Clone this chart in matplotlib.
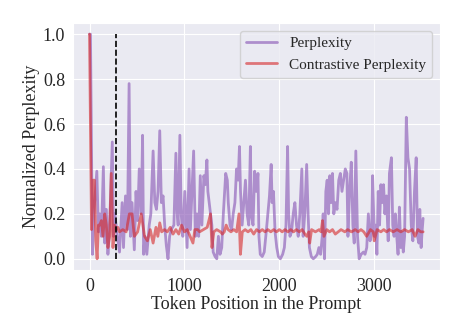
import numpy as np
import matplotlib
matplotlib.use("Agg")
import matplotlib.pyplot as plt
import seaborn as sns

# values
perp_tokens = [0, 10, 31, 45, 77, 94, 108, 125, 146, 160, 177, 194, 212, 240, 253, 267, 288, 316, 344, 358,
               379, 400, 417, 431, 448, 472, 490, 507, 524, 545, 559, 570, 584, 604, 629, 646, 670, 688, 705, 722,
               740, 757, 775, 792, 809, 827, 844, 861, 889, 910, 924, 934, 952, 966, 983, 1004, 1028, 1049, 1063, 1080,
               1097, 1115, 1132, 1150, 1167, 1184, 1205, 1219, 1237, 1247, 1261, 1275, 1289, 1303, 1323, 1341, 1358, 1375, 1393, 1410,
               1435, 1452, 1462, 1480, 1497, 1514, 1532, 1549, 1566, 1580, 1591, 1608, 1626, 1643, 1660, 1678, 1695, 1706, 1723, 1740,
               1757, 1775, 1785, 1799, 1820, 1841, 1862, 1879, 1896, 1914, 1924, 1938, 1955, 1973, 1990, 2011, 2035, 2053, 2070, 2087,
               2098, 2112, 2129, 2146, 2164, 2181, 2199, 2216, 2237, 2251, 2268, 2288, 2303, 2317, 2337, 2358, 2383, 2400, 2417, 2435,
               2452, 2462, 2476, 2490, 2504, 2518, 2532, 2546, 2560, 2574, 2591, 2608, 2626, 2643, 2660, 2678, 2695, 2712, 2723, 2740,
               2758, 2775, 2789, 2806, 2824, 2841, 2862, 2886, 2903, 2921, 2938, 2956, 2973, 2983, 3001, 3015, 3028, 3042, 3056, 3070,
               3084, 3098, 3112, 3129, 3147, 3160, 3181, 3195, 3209, 3223, 3237, 3251, 3265, 3279, 3292, 3306, 3320, 3338, 3355, 3372,
               3390, 3407, 3424, 3442, 3456, 3470, 3480, 3494, 3504, 3515]
perp_values = [1.0, 1.0, 0.02, 0.2, 0.39, 0.12, 0.2, 0.1, 0.41, 0.07, 0.22, 0.02, 0.15, 0.52, 0.1, 0.2, 0.12, 0.03, 0.25, 0.05,
               0.28, 0.13, 0.78, 0.1, 0.25, 0.04, 0.3, 0.17, 0.4, 0.2, 0.55, 0.02, 0.1, 0.02, 0.15, 0.2, 0.48, 0.25, 0.22, 0.3,
               0.57, 0.25, 0.28, 0.15, 0.06, 0.0, 0.1, 0.13, 0.15, 0.47, 0.2, 0.15, 0.55, 0.2, 0.1, 0.3, 0.05, 0.4, 0.13, 0.3,
               0.48, 0.1, 0.2, 0.1, 0.37, 0.15, 0.37, 0.33, 0.44, 0.3, 0.25, 0.2, 0.15, 0.03, 0.01, 0.0, 0.1, 0.02, 0.05, 0.2,
               0.38, 0.35, 0.25, 0.15, 0.13, 0.2, 0.25, 0.4, 0.35, 0.5, 0.3, 0.15, 0.25, 0.35, 0.2, 0.15, 0.5, 0.19, 0.15, 0.39,
               0.3, 0.38, 0.1, 0.02, 0.01, 0.03, 0.12, 0.2, 0.28, 0.42, 0.25, 0.3, 0.12, 0.05, 0.01, 0.0, 0.02, 0.05, 0.15, 0.5,
               0.2, 0.1, 0.12, 0.2, 0.25, 0.15, 0.1, 0.2, 0.4, 0.1, 0.2, 0.42, 0.2, 0.05, 0.01, 0.0, 0.01, 0.02, 0.05, 0.02,
               0.1, 0.2, 0.0, 0.3, 0.35, 0.2, 0.37, 0.25, 0.38, 0.2, 0.25, 0.22, 0.35, 0.38, 0.3, 0.35, 0.4, 0.38, 0.1, 0.3,
               0.43, 0.15, 0.07, 0.48, 0.1, 0.0, 0.02, 0.03, 0.02, 0.05, 0.2, 0.08, 0.12, 0.37, 0.1, 0.15, 0.02, 0.3, 0.15, 0.33,
               0.25, 0.33, 0.2, 0.28, 0.08, 0.38, 0.45, 0.15, 0.1, 0.2, 0.1, 0.02, 0.23, 0.05, 0.12, 0.03, 0.1, 0.63, 0.45, 0.4,
               0.15, 0.08, 0.3, 0.45, 0.1, 0.07, 0.22, 0.05, 0.12, 0.18]

cont_tokens = [0, 21, 38, 52, 66, 80, 94, 108, 125, 142, 160, 177, 194, 212, 229, 247, 264, 281, 299, 316,
               351, 386, 420, 448, 472, 507, 545, 580, 610, 640, 670, 700, 720, 740, 760, 790, 820, 850, 880, 910,
               940, 970, 1000, 1030, 1060, 1090, 1110, 1140, 1160, 1200, 1240, 1275, 1290, 1310, 1340, 1380, 1400, 1420, 1440, 1460,
               1490, 1520, 1550, 1575, 1590, 1610, 1640, 1670, 1700, 1730, 1760, 1790, 1820, 1850, 1880, 1910, 1940, 1970, 2000, 2030,
               2060, 2090, 2120, 2150, 2180, 2210, 2240, 2270, 2290, 2310, 2320, 2340, 2380, 2420, 2440, 2455, 2470, 2500, 2530, 2560,
               2590, 2620, 2650, 2690, 2720, 2760, 2800, 2830, 2860, 2890, 2920, 2960, 2990, 3000, 3030, 3070, 3100, 3130, 3160, 3200,
               3240, 3280, 3320, 3360, 3400, 3430, 3460, 3490, 3515]
cont_values = [1.0, 0.13, 0.35, 0.35, 0.08, 0.0, 0.15, 0.15, 0.17, 0.1, 0.2, 0.15, 0.05, 0.1, 0.38, 0.05, 0.15, 0.13, 0.14, 0.12,
               0.13, 0.12, 0.2, 0.2, 0.1, 0.12, 0.2, 0.1, 0.08, 0.13, 0.07, 0.14, 0.1, 0.16, 0.12, 0.13, 0.12, 0.14, 0.11, 0.13,
               0.11, 0.15, 0.12, 0.13, 0.1, 0.07, 0.13, 0.13, 0.12, 0.13, 0.14, 0.2, 0.05, 0.12, 0.13, 0.12, 0.11, 0.12, 0.15, 0.13,
               0.12, 0.13, 0.12, 0.2, 0.02, 0.12, 0.13, 0.12, 0.13, 0.11, 0.13, 0.12, 0.13, 0.12, 0.13, 0.12, 0.13, 0.12, 0.13, 0.12,
               0.13, 0.12, 0.13, 0.12, 0.13, 0.12, 0.13, 0.11, 0.1, 0.12, 0.07, 0.13, 0.12, 0.13, 0.12, 0.17, 0.1, 0.13, 0.12, 0.13,
               0.11, 0.12, 0.13, 0.12, 0.13, 0.12, 0.13, 0.12, 0.13, 0.12, 0.1, 0.13, 0.12, 0.08, 0.13, 0.12, 0.13, 0.12, 0.13, 0.12,
               0.13, 0.12, 0.13, 0.12, 0.13, 0.1, 0.13, 0.12, 0.12]

split_token = 280

sns.set_style("darkgrid")
plt.rcParams['font.family'] = ['Liberation Serif', 'DejaVu Serif']

fig = plt.figure(figsize=(4.61, 3.23), dpi=100)
ax = fig.add_axes([0.158, 0.164, 0.796, 0.765])

ax.plot(perp_tokens, perp_values, color="tab:purple", alpha=0.7, lw=2, label="Perplexity")
ax.plot(cont_tokens, cont_values, color="tab:red", alpha=0.6, lw=2, label="Contrastive Perplexity")
ax.vlines(split_token, 0, 1, colors="black", linestyles="dashed", lw=1.2)

ax.set_xticks([0, 1000, 2000, 3000])
ax.set_yticks([0.0, 0.2, 0.4, 0.6, 0.8, 1.0])
ax.tick_params(labelsize=13, pad=2)
ax.set_xlabel("Token Position in the Prompt", fontsize=13, labelpad=1)
ax.set_ylabel("Normalized Perplexity", fontsize=13, labelpad=2)
ax.legend(loc="upper right", fontsize=11)

plt.savefig("out.png", dpi=100)
